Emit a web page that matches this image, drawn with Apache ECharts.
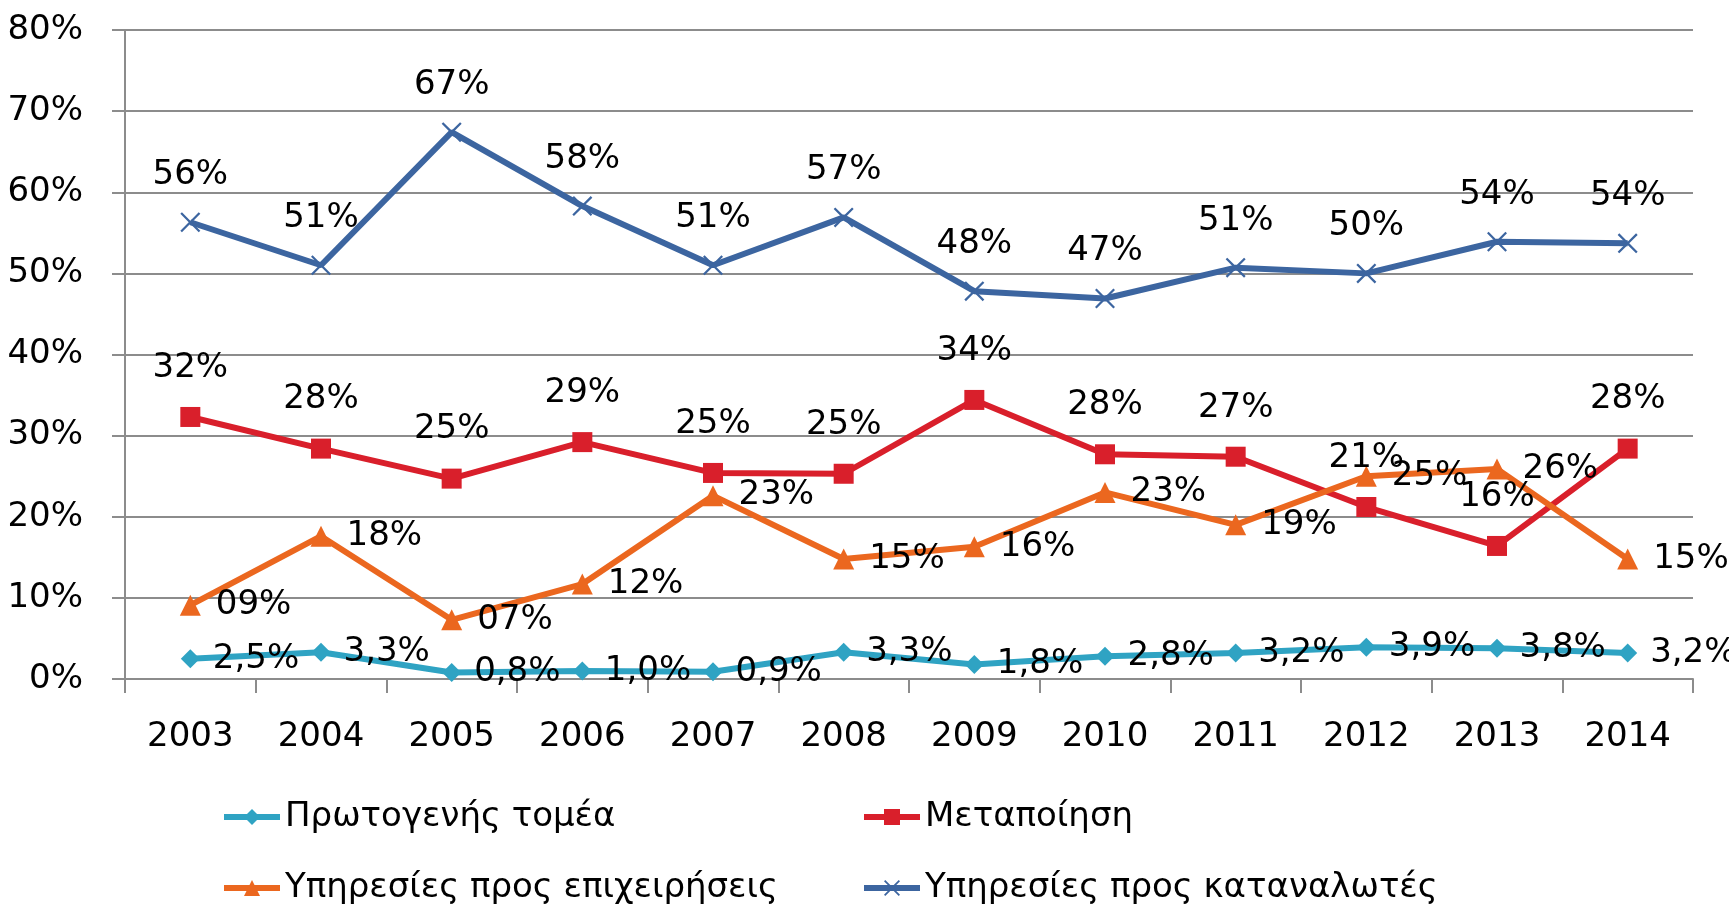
<!DOCTYPE html>
<html>
<head>
<meta charset="utf-8">
<script src="https://cdn.jsdelivr.net/npm/echarts@6/dist/echarts.min.js"></script>
<style>
  html, body { margin: 0; padding: 0; background: #fff; }
  #chart { width: 1729px; height: 907px; }
</style>
</head>
<body>
<div id="chart"></div>
<script>
// έτη
const years = ['2003', '2004', '2005', '2006', '2007', '2008', '2009', '2010', '2011', '2012', '2013', '2014']
const yTicks = [0, 10, 20, 30, 40, 50, 60, 70, 80]

// σειρές (%)
const primary = [2.5, 3.3, 0.8, 1.0, 0.9, 3.3, 1.8, 2.8, 3.2, 3.9, 3.8, 3.2]
const manufacturing = [32.3, 28.4, 24.7, 29.2, 25.4, 25.3, 34.4, 27.7, 27.4, 21.2, 16.4, 28.4]
const business = [9.1, 17.6, 7.3, 11.7, 22.6, 14.8, 16.3, 23.0, 19.0, 25.0, 25.9, 14.8]
const consumer = [56.3, 51.0, 67.4, 58.3, 51.0, 56.9, 47.8, 46.9, 50.7, 50.0, 53.9, 53.7]

const names = ['Πρωτογενής τομέα', 'Μεταποίηση', 'Υπηρεσίες προς επιχειρήσεις', 'Υπηρεσίες προς καταναλωτές']

const FONT = 'DejaVu Sans'
const FS = 34
const crossPath = 'path://M0,0.8L0.8,0L5,4.2L9.2,0L10,0.8L5.8,5L10,9.2L9.2,10L5,5.8L0.8,10L0,9.2L4.2,5Z'

const fmtDec = p => p.value.toFixed(1).replace('.', ',') + '%'
const fmtInt = p => String(Math.round(p.value)).padStart(2, '0') + '%'

function lineSeries(name, data, color, symbol, size, pos, dist, fmt) {
  return {
    name: name,
    type: 'line',
    data: data,
    symbol: symbol,
    symbolSize: size,
    lineStyle: { color: color, width: 6 },
    itemStyle: { color: color },
    label: {
      show: true,
      position: pos,
      distance: dist,
      formatter: fmt,
      color: '#000',
      fontFamily: FONT,
      fontSize: FS
    },
    z: 3
  }
}

function legendAt(name, left, top) {
  return {
    data: [name],
    left: left,
    top: top,
    padding: 0,
    itemWidth: 56,
    itemHeight: 20,
    lineStyle: { width: 6 },
    textStyle: { fontFamily: FONT, fontSize: FS, color: '#000' }
  }
}

const chart = echarts.init(document.getElementById('chart'))
chart.setOption({
  animation: false,
  backgroundColor: '#fff',
  grid: { left: 125, right: 36, top: 30, bottom: 228, containLabel: false, outerBoundsMode: 'none' },
  legend: [
    legendAt(names[0], 221, 800),
    legendAt(names[1], 861, 800),
    legendAt(names[2], 221, 871),
    legendAt(names[3], 861, 871)
  ],
  xAxis: {
    type: 'category',
    data: years,
    boundaryGap: true,
    axisLine: { lineStyle: { color: '#8c8c8c', width: 2 } },
    axisTick: { show: true, length: 14, lineStyle: { color: '#8c8c8c', width: 2 } },
    axisLabel: { color: '#000', fontFamily: FONT, fontSize: FS, margin: 41 }
  },
  yAxis: {
    type: 'value',
    min: yTicks[0],
    max: yTicks[yTicks.length - 1],
    interval: 10,
    axisLine: { show: true, lineStyle: { color: '#8c8c8c', width: 2 } },
    axisTick: { show: true, length: 13, lineStyle: { color: '#8c8c8c', width: 2 } },
    splitLine: { lineStyle: { color: '#8c8c8c', width: 2 } },
    axisLabel: { color: '#000', fontFamily: FONT, fontSize: FS, margin: 42, formatter: '{value}%' }
  },
  series: [
    lineSeries(names[0], primary, '#2fa3c3', 'diamond', 19, 'right', 13, fmtDec),
    lineSeries(names[1], manufacturing, '#d91f2b', 'rect', 20, 'top', 22, fmtInt),
    lineSeries(names[2], business, '#eb671f', 'triangle', 21, 'right', 15, fmtInt),
    lineSeries(names[3], consumer, '#3c65a0', crossPath, 20, 'top', 20, fmtInt)
  ]
})
</script>
</body>
</html>
